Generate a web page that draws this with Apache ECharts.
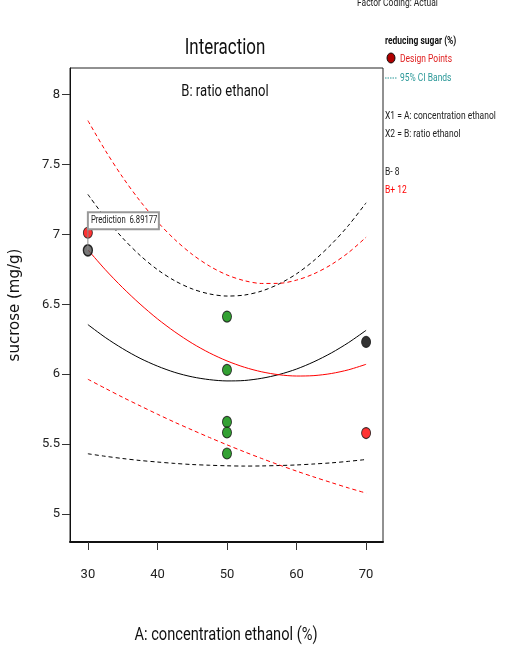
<!DOCTYPE html>
<html><head><meta charset="utf-8">
<script src="https://cdn.jsdelivr.net/npm/echarts@6/dist/echarts.min.js"></script>
<style>html,body{margin:0;padding:0;background:#fff}#c{width:505px;height:650px}</style>
</head><body><div id="c"></div>
<script>
const xGrid = [30, 32.5, 35, 37.5, 40, 42.5, 45, 47.5, 50, 52.5, 55, 57.5, 60, 62.5, 65, 67.5, 70];
const xTicks = [30, 40, 50, 60, 70];
const yTicks = [5, 5.5, 6, 6.5, 7, 7.5, 8];
// B- = 8 (black)
const bMinusFit   = [6.355, 6.263, 6.183, 6.114, 6.058, 6.013, 5.981, 5.961, 5.952, 5.955, 5.971, 5.998, 6.037, 6.089, 6.152, 6.227, 6.314];
const bMinusUpper = [7.286, 7.119, 6.974, 6.850, 6.748, 6.668, 6.610, 6.574, 6.559, 6.566, 6.595, 6.646, 6.718, 6.813, 6.929, 7.066, 7.226];
const bMinusLower = [5.431, 5.413, 5.397, 5.383, 5.372, 5.362, 5.354, 5.349, 5.345, 5.343, 5.344, 5.347, 5.351, 5.358, 5.366, 5.377, 5.390];
// B+ = 12 (red)
const bPlusFit   = [6.890, 6.748, 6.619, 6.502, 6.396, 6.303, 6.221, 6.152, 6.095, 6.050, 6.017, 5.996, 5.987, 5.990, 6.005, 6.032, 6.071];
const bPlusUpper = [7.814, 7.601, 7.409, 7.239, 7.090, 6.963, 6.857, 6.773, 6.710, 6.669, 6.649, 6.650, 6.673, 6.718, 6.784, 6.871, 6.980];
const bPlusLower = [5.964, 5.899, 5.835, 5.774, 5.714, 5.656, 5.601, 5.547, 5.495, 5.445, 5.397, 5.351, 5.307, 5.265, 5.225, 5.186, 5.150];
// design points
const greenX = [50, 50, 50, 50, 50];
const greenY = [6.412, 6.031, 5.659, 5.583, 5.433];
const blackX = [70];
const blackY = [6.231];
const redX = [30, 70];
const redY = [7.012, 5.579];
const predX = 30, predY = 6.886, predText = 'Prediction  6.89177';

const FN = "Roboto,'DejaVu Sans Condensed',sans-serif";
const SX = 0.77;
const zip = (xs, ys) => xs.map((x, i) => [x, ys[i]]);
const line = (ys, color, dashed) => ({
  type: 'line', data: zip(xGrid, ys), smooth: 0.3, symbol: 'none', silent: true,
  lineStyle: { color, width: 1, type: dashed ? [4, 3] : 'solid' }, z: 2
});
const pts = (xs, ys, color) => ({
  type: 'scatter', data: zip(xs, ys), symbol: 'circle', symbolSize: [9, 11],
  itemStyle: { color, borderColor: '#111', borderWidth: 1 }, z: 5
});
let tid = 0;
const txt = (x, y, text, size, fill, opts = {}) => ({
  type: 'text', id: 't' + (tid++), x, y, scaleX: SX, z: 20,
  style: { text, fill, font: (opts.bold ? 'bold ' : '') + size + 'px ' + FN,
    textAlign: opts.align || 'left', textVerticalAlign: 'middle' }
});

const chart = echarts.init(document.getElementById('c'), null, { renderer: 'canvas' });
chart.setOption({
  animation: false,
  backgroundColor: '#fff',
  grid: { left: 68, right: 122, top: 68, bottom: 108, show: true, borderColor: '#222', borderWidth: 1, backgroundColor: 'transparent' },
  xAxis: {
    type: 'value', min: 27.43, max: 72.43,
    axisLine: { show: true, lineStyle: { color: '#111', width: 2 } },
    axisTick: { show: true, inside: false, length: 8, customValues: xTicks, lineStyle: { color: '#333' } },
    axisLabel: { customValues: xTicks, margin: 26, fontFamily: FN, fontSize: 13, color: '#222' },
    splitLine: { show: false }
  },
  yAxis: {
    type: 'value', min: 4.8, max: 8.19,
    name: 'sucrose (mg/g)', nameLocation: 'middle', nameGap: 47, nameRotate: 90,
    nameTextStyle: { fontFamily: "'DejaVu Sans',Verdana,sans-serif", fontSize: 15, color: '#111' },
    axisLine: { show: true, lineStyle: { color: '#111', width: 1 } },
    axisTick: { show: true, inside: false, length: 8, customValues: yTicks, lineStyle: { color: '#333' } },
    axisLabel: { customValues: yTicks, margin: 10, fontFamily: FN, fontSize: 13, color: '#222',
      formatter: v => String(v) },
    splitLine: { show: false }
  },
  series: [
    line(bMinusUpper, '#000', true),
    line(bMinusLower, '#000', true),
    line(bPlusUpper, '#ff0000', true),
    line(bPlusLower, '#ff0000', true),
    line(bMinusFit, '#000', false),
    line(bPlusFit, '#ff0000', false),
    pts(greenX, greenY, '#008a00'),
    pts(blackX, blackY, '#000'),
    pts(redX, redY, '#ff0000'),
    {
      type: 'scatter', data: [[predX, predY]], symbol: 'circle', symbolSize: [9, 11],
      itemStyle: { color: '#555', borderColor: '#000', borderWidth: 1.5 }, z: 6
    }
  ],
  graphic: [
    txt(225, 48, 'Interaction', 22, '#111', { align: 'center' }),
    txt(225, 92, 'B: ratio ethanol', 17, '#111', { align: 'center' }),
    txt(226, 635, 'A: concentration ethanol (%)', 19, '#111', { align: 'center' }),
    txt(357, 3, 'Factor Coding: Actual', 11, '#222'),
    txt(385, 41, 'reducing sugar (%)', 11, '#111', { bold: true }),
    { type: 'ellipse', id: 'legDot', shape: { cx: 391, cy: 58, rx: 4, ry: 5 }, style: { fill: '#b00000', stroke: '#111', lineWidth: 1 } },
    txt(400, 59, 'Design Points', 11, '#e02020'),
    { type: 'line', id: 'legDash', shape: { x1: 385, y1: 78, x2: 397, y2: 78 }, style: { stroke: '#2a9898', lineWidth: 1, lineDash: [1.5, 1] } },
    txt(400, 78, '95% CI Bands', 11, '#2a9898'),
    txt(385, 116, 'X1 = A: concentration ethanol', 11, '#222'),
    txt(385, 134, 'X2 = B: ratio ethanol', 11, '#222'),
    txt(385, 172, 'B- 8', 11, '#222'),
    txt(385, 190, 'B+ 12', 11, '#ff0000')
  ]
});

// prediction flag attached to the selected point
const p = chart.convertToPixel({ gridIndex: 0 }, [predX, predY]);
const bx = p[0], by = p[1] - 38;
chart.setOption({
  graphic: [
    { type: 'line', id: 'flagLine', z: 15, shape: { x1: bx, y1: by + 17, x2: bx, y2: p[1] }, style: { stroke: '#888', lineWidth: 1 } },
    { type: 'rect', id: 'flagBox', z: 16, shape: { x: bx, y: by, width: 71, height: 17 }, style: { fill: '#fff', stroke: '#999', lineWidth: 2 } },
    Object.assign(txt(bx + 3, by + 8.5, predText, 10, '#222'), { id: 'flagText', z: 17 })
  ]
});
</script></body></html>
